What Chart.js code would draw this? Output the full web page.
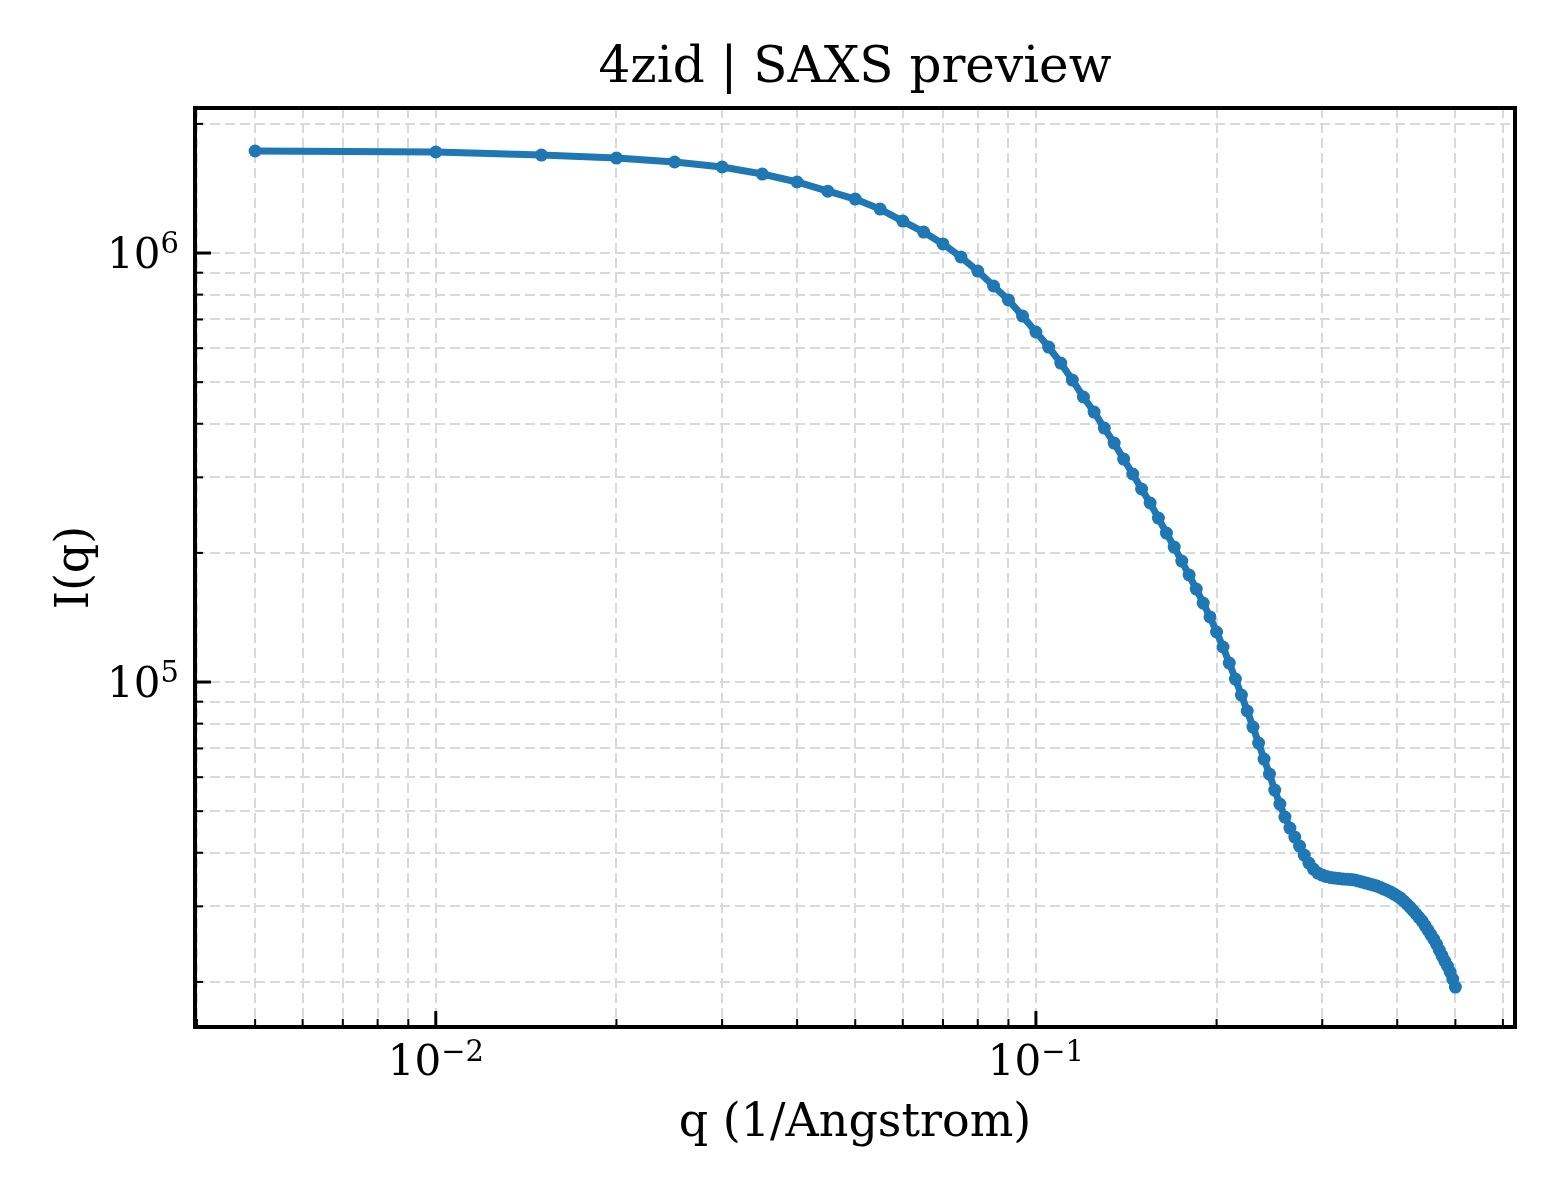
<!DOCTYPE html>
<html lang="en">
<head>
<meta charset="UTF-8">
<title>4zid | SAXS preview</title>
<script src="https://cdn.jsdelivr.net/npm/chart.js@4"></script>
<style>
    body { margin: 0; background: #ffffff; }
    #wrap { width: 1560px; height: 1200px; }
</style>
</head>
<body>
<div id="wrap"><canvas id="saxs" width="1560" height="1200"></canvas></div>
<script>
// q in 1/Angstrom
const qValues = [
    0.005, 0.010, 0.015, 0.020, 0.025, 0.030, 0.035, 0.040, 0.045, 0.050,
    0.055, 0.060, 0.065, 0.070, 0.075, 0.080, 0.085, 0.090, 0.095, 0.100,
    0.105, 0.110, 0.115, 0.120, 0.125, 0.130, 0.135, 0.140, 0.145, 0.150,
    0.155, 0.160, 0.165, 0.170, 0.175, 0.180, 0.185, 0.190, 0.195, 0.200,
    0.205, 0.210, 0.215, 0.220, 0.225, 0.230, 0.235, 0.240, 0.245, 0.250,
    0.255, 0.260, 0.265, 0.270, 0.275, 0.280, 0.285, 0.290, 0.295, 0.300,
    0.305, 0.310, 0.315, 0.320, 0.325, 0.330, 0.335, 0.340, 0.345, 0.350,
    0.355, 0.360, 0.365, 0.370, 0.375, 0.380, 0.385, 0.390, 0.395, 0.400,
    0.405, 0.410, 0.415, 0.420, 0.425, 0.430, 0.435, 0.440, 0.445, 0.450,
    0.455, 0.460, 0.465, 0.470, 0.475, 0.480, 0.485, 0.490, 0.495, 0.500
];

// I(q)
const intensity = [
    1729000, 1720000, 1692000, 1665000, 1630000, 1587000, 1528000, 1464000, 1394000, 1336000,
    1266000, 1187000, 1119000, 1050000, 978800, 907900, 837700, 777200, 712900, 654500,
    603700, 554100, 505700, 461700, 425900, 390900, 360600, 330900, 305400, 281800,
    261400, 241100, 222500, 206300, 191400, 177600, 164700, 152800, 141800, 130800,
    120700, 110700, 101600, 93260, 85590, 78540, 72080, 66140, 61020, 56000,
    51940, 48450, 45670, 43510, 41460, 39500, 37850, 36650, 35870, 35480,
    35200, 35010, 34920, 34830, 34730, 34700, 34640, 34550, 34360, 34180,
    34000, 33810, 33630, 33450, 33190, 32920, 32660, 32390, 32050, 31710,
    31370, 30870, 30380, 29890, 29340, 28790, 28250, 27720, 27060, 26410,
    25780, 25170, 24500, 23730, 23040, 22370, 21780, 21090, 20310, 19450
];

// labelled decades
const xMajorTicks = [0.01, 0.1];
const xMajorExponents = ['\u22122', '\u22121'];
const yMajorTicks = [1e5, 1e6];
const yMajorExponents = ['5', '6'];

const SERIF = '"DejaVu Serif", serif';

// 1..9 x 10^n inside the axis range (like matplotlib's log locator with subs)
function decadeTicks(min, max) {
    const out = [];
    for (let e = Math.floor(Math.log10(min)); e <= Math.ceil(Math.log10(max)); e++) {
        for (let m = 1; m <= 9; m++) {
            const v = parseFloat((m * Math.pow(10, e)).toPrecision(6));
            if (v >= min && v <= max) out.push({ value: v, major: m === 1 });
        }
    }
    return out;
}

// frame, inward ticks and 10^n labels drawn on top of the library scales
const axesFrame = {
    id: 'axesFrame',
    afterDraw(chart) {
        const { ctx, chartArea: a, scales: { x, y } } = chart;
        ctx.save();
        ctx.strokeStyle = '#000';
        ctx.lineCap = 'butt';

        decadeTicks(x.min, x.max).forEach(t => {
            const px = x.getPixelForValue(t.value);
            ctx.lineWidth = t.major ? 3 : 2;
            ctx.beginPath();
            ctx.moveTo(px, a.bottom);
            ctx.lineTo(px, a.bottom - (t.major ? 16 : 8));
            ctx.stroke();
        });
        decadeTicks(y.min, y.max).forEach(t => {
            const py = y.getPixelForValue(t.value);
            ctx.lineWidth = t.major ? 3 : 2;
            ctx.beginPath();
            ctx.moveTo(a.left, py);
            ctx.lineTo(a.left + (t.major ? 16 : 8), py);
            ctx.stroke();
        });

        ctx.lineWidth = 4;
        ctx.strokeRect(a.left, a.top, a.right - a.left, a.bottom - a.top);

        ctx.fillStyle = '#000';
        ctx.textBaseline = 'alphabetic';
        ctx.textAlign = 'left';
        const baseFont = '42px ' + SERIF;
        const expFont = '29px ' + SERIF;

        xMajorTicks.forEach((v, i) => {
            const px = x.getPixelForValue(v);
            ctx.font = baseFont;
            const wb = ctx.measureText('10').width;
            ctx.font = expFont;
            const we = ctx.measureText(xMajorExponents[i]).width;
            const x0 = px - (wb + we) / 2;
            ctx.font = baseFont;
            ctx.fillText('10', x0, a.bottom + 48);
            ctx.font = expFont;
            ctx.fillText(xMajorExponents[i], x0 + wb, a.bottom + 34);
        });

        yMajorTicks.forEach((v, i) => {
            const py = y.getPixelForValue(v);
            ctx.font = baseFont;
            const wb = ctx.measureText('10').width;
            ctx.font = expFont;
            const we = ctx.measureText(yMajorExponents[i]).width;
            const x0 = a.left - 16 - we - wb;
            ctx.font = baseFont;
            ctx.fillText('10', x0, py + 15);
            ctx.font = expFont;
            ctx.fillText(yMajorExponents[i], x0 + wb, py + 0);
        });
        ctx.restore();
    }
};

const gridStyle = { color: '#d9d9d9', lineWidth: 2, drawTicks: false };

new Chart(document.getElementById('saxs'), {
    type: 'line',
    data: {
        datasets: [{
            data: qValues.map((q, i) => ({ x: q, y: intensity[i] })),
            borderColor: '#1f77b4',
            backgroundColor: '#1f77b4',
            borderWidth: 7,
            pointRadius: 6.5,
            pointBackgroundColor: '#1f77b4',
            pointBorderWidth: 0,
            tension: 0,
            fill: false
        }]
    },
    options: {
        responsive: false,
        devicePixelRatio: 1,
        animation: false,
        layout: { padding: { left: 0, right: 45, top: 0, bottom: 0 } },
        plugins: {
            legend: { display: false },
            tooltip: { enabled: false },
            title: {
                display: true,
                fullSize: false,
                text: '4zid | SAXS preview',
                color: '#000',
                font: { family: SERIF, size: 50, weight: 'normal', lineHeight: 1 },
                padding: { top: 44, bottom: 14 }
            }
        },
        scales: {
            x: {
                type: 'logarithmic',
                min: 0.00397,
                max: 0.6285,
                grid: gridStyle,
                border: { display: false, dash: [10, 5] },
                ticks: { display: false },
                afterBuildTicks: s => { s.ticks = decadeTicks(s.min, s.max); },
                afterFit: s => { s.height = 173; },
                title: {
                    display: true,
                    text: 'q (1/Angstrom)',
                    color: '#000',
                    font: { family: SERIF, size: 46, weight: 'normal', lineHeight: 1 },
                    padding: { top: 0, bottom: 53 }
                }
            },
            y: {
                type: 'logarithmic',
                min: 15700,
                max: 2178000,
                grid: gridStyle,
                border: { display: false, dash: [10, 5] },
                ticks: { display: false },
                afterBuildTicks: s => { s.ticks = decadeTicks(s.min, s.max); },
                afterFit: s => { s.width = 195; },
                title: {
                    display: true,
                    text: 'I(q)',
                    color: '#000',
                    font: { family: SERIF, size: 46, weight: 'normal', lineHeight: 1 },
                    padding: { top: 53, bottom: 0 }
                }
            }
        }
    },
    plugins: [axesFrame]
});
</script>
</body>
</html>
